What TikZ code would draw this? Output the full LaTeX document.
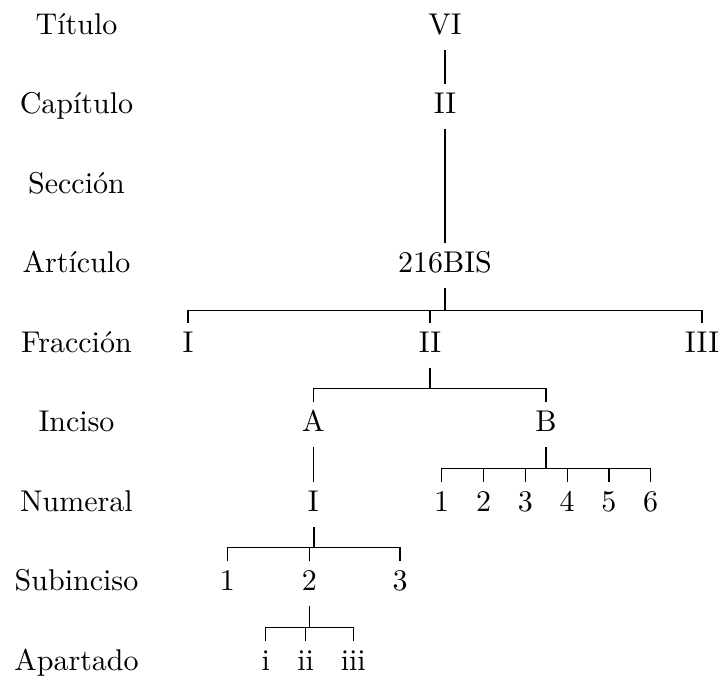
\documentclass[tikz,border=0pt]{standalone}
\begin{document}
\begin{tikzpicture}[x=0.33333pt,y=-0.33333pt,
  lab/.style={anchor=base,inner sep=0pt},
  tn/.style={anchor=base,inner xsep=0pt,inner ysep=2.7pt,text height=6.83pt,text depth=2.3pt},
  ln/.style={line width=0.4pt}]
\useasboundingbox (0,0) rectangle (720,677);
% level labels
\node[lab] (l1) at (76.5,34) {Título};
\node[lab] (l2) at (76.5,113.5) {Capítulo};
\node[lab] (l3) at (76.5,193) {Sección};
\node[lab] (l4) at (76.5,272.5) {Artículo};
\node[lab] (l5) at (76.5,352) {Fracción};
\node[lab] (l6) at (76.5,431.5) {Inciso};
\node[lab] (l7) at (76.5,511) {Numeral};
\node[lab] (l8) at (76.5,590.5) {Subinciso};
\node[lab] (l9) at (76.5,670) {Apartado};
% tree nodes
\node[tn] (tit) at (445,34) {VI};
\node[tn] (cap) at (445,113.5) {II};
\node[tn] (art) at (445,272.5) {216BIS};
\node[tn] (fI) at (188,352) {I};
\node[tn] (fII) at (430,352) {II};
\node[tn] (fIII) at (702,352) {III};
\node[tn] (iA) at (313.3,431.5) {A};
\node[tn] (iB) at (546,431.5) {B};
\node[tn] (nI) at (313.3,511) {I};
\node[tn] (n1) at (441.7,511) {1};
\node[tn] (n2) at (483.5,511) {2};
\node[tn] (n3) at (525.3,511) {3};
\node[tn] (n4) at (567.1,511) {4};
\node[tn] (n5) at (608.9,511) {5};
\node[tn] (n6) at (650.7,511) {6};
\node[tn] (s1) at (227.3,590.5) {1};
\node[tn] (s2) at (309.3,590.5) {2};
\node[tn] (s3) at (400,590.5) {3};
\node[tn] (a1) at (265.7,670) {i};
\node[tn] (a2) at (305.7,670) {ii};
\node[tn] (a3) at (353.3,670) {iii};
% connectors
\draw[ln] (tit.south) -- (cap.north);
\draw[ln] (cap.south) -- (art.north);
\draw[ln] (art.south) -- ++(0,22) coordinate (b1);
\draw[ln] (fI.north) |- (b1) -| (fIII.north);
\draw[ln] (fII.north) -- (fII.north |- b1);
\draw[ln] (fII.south) -- ++(0,21) coordinate (b2);
\draw[ln] (iA.north) |- (b2) -| (iB.north);
\draw[ln] (iA.south) -- (nI.north);
\draw[ln] (iB.south) -- ++(0,21) coordinate (b3);
\draw[ln] (n1.north) |- (b3) -| (n6.north);
\foreach \n in {n2,n3,n4,n5} \draw[ln] (\n.north) -- (\n.north |- b3);
\draw[ln] ([xshift=0.2pt]nI.south) -- ++(0,21) coordinate (b4);
\draw[ln] (s1.north) |- (b4) -| (s3.north);
\draw[ln] (s2.north) -- (s2.north |- b4);
\draw[ln] (s2.south) -- ++(0,21) coordinate (b5);
\draw[ln] (a1.north) |- (b5) -| (a3.north);
\draw[ln] (a2.north) -- (a2.north |- b5);
\end{tikzpicture}
\end{document}
